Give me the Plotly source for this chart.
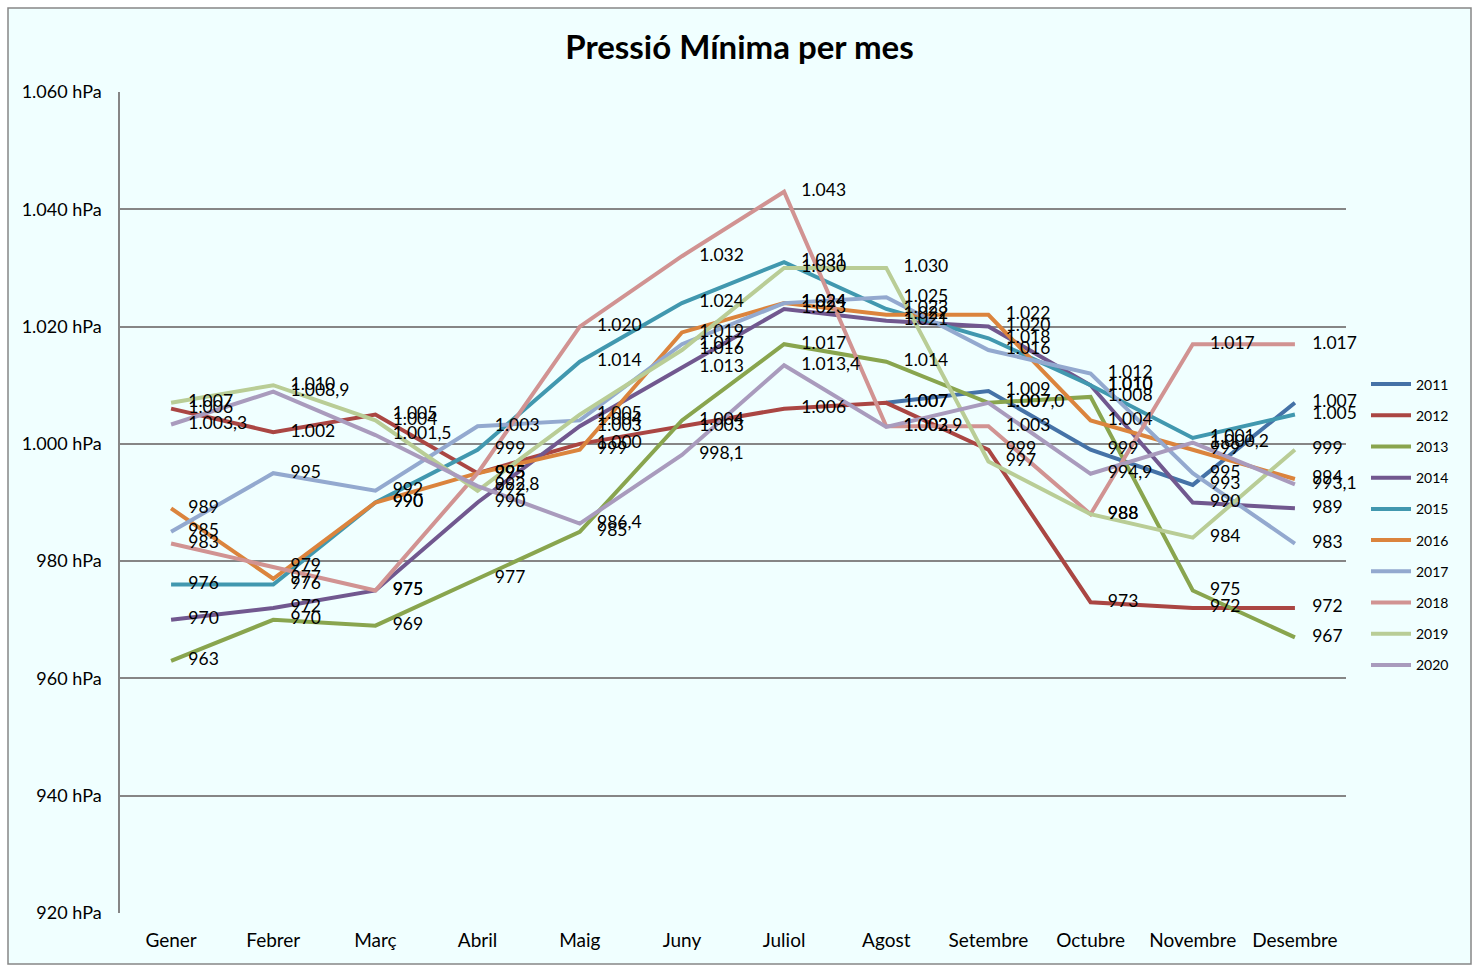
import plotly.graph_objects as go

months = ["Gener", "Febrer", "Març", "Abril", "Maig", "Juny", "Juliol",
          "Agost", "Setembre", "Octubre", "Novembre", "Desembre"]

p2011 = [None, None, None, None, None, None, None, 1007, 1009, 999, 993, 1007]
p2012 = [1006, 1002, 1005, 995, 1000, 1003, 1006, 1007, 999, 973, 972, 972]
p2013 = [963, 970, 969, 977, 985, 1004, 1017, 1014, 1007, 1008, 975, 967]
p2014 = [970, 972, 975, 990, 1003, 1013, 1023, 1021, 1020, 1010, 990, 989]
p2015 = [976, 976, 990, 999, 1014, 1024, 1031, 1023, 1018, 1010, 1001, 1005]
p2016 = [989, 977, 990, 995, 999, 1019, 1024, 1022, 1022, 1004, 999, 994]
p2017 = [985, 995, 992, 1003, 1004, 1017, 1024, 1025, 1016, 1012, 995, 983]
p2018 = [983, 979, 975, 995, 1020, 1032, 1043, 1003, 1003, 988, 1017, 1017]
p2019 = [1007, 1010, 1004, 992, 1005, 1016, 1030, 1030, 997, 988, 984, 999]
p2020 = [1003.3, 1008.9, 1001.5, 992.8, 986.4, 998.1, 1013.4, 1002.9, 1007.0, 994.9, 1000.2, 993.1]

series_names = ["2011", "2012", "2013", "2014", "2015", "2016", "2017", "2018", "2019", "2020"]
series_values = [p2011, p2012, p2013, p2014, p2015, p2016, p2017, p2018, p2019, p2020]
colors = ["#4572A7", "#AA4643", "#89A54E", "#71588F", "#4198AF",
          "#DB843D", "#93A9CF", "#D19392", "#B9CD96", "#A99BBD"]

ytick_vals = [920, 940, 960, 980, 1000, 1020, 1040, 1060]
ytick_text = ["920 hPa", "940 hPa", "960 hPa", "980 hPa", "1.000 hPa",
              "1.020 hPa", "1.040 hPa", "1.060 hPa"]

FONT = "Lato"
BG = "#F0FFFF"

fig = go.Figure()

for name, vals, col in zip(series_names, series_values, colors):
    fig.add_trace(go.Scatter(
        x=months, y=vals, name=name, mode="lines",
        line=dict(color=col, width=4),
        legendgroup=name, hoverinfo="skip",
    ))

for name, vals, col in zip(series_names, series_values, colors):
    fmt = "%{y:,.1f}" if name == "2020" else "%{y:,.0f}"
    fig.add_trace(go.Scatter(
        x=months, y=vals, mode="markers+text", showlegend=False,
        marker=dict(size=26, color="rgba(0,0,0,0)"),
        texttemplate=fmt, textposition="middle right",
        textfont=dict(family=FONT, size=17.5, color="#000000"),
        hoverinfo="skip", cliponaxis=False,
    ))

W, H = 1479, 972
L, R, T, B = 120, 1346, 92, 913
pw, ph = R - L, B - T

def px(x):
    return (x - L) / pw

def py(y):
    return (B - y) / ph

fig.add_shape(type="rect", xref="paper", yref="paper",
              x0=px(8), x1=px(1471), y0=py(964), y1=py(8),
              line=dict(color="#868686", width=1.5), fillcolor=BG, layer="below")

fig.update_layout(
    width=W, height=H,
    margin=dict(l=L, r=W - R, t=T, b=H - B, pad=0),
    paper_bgcolor="white", plot_bgcolor="rgba(0,0,0,0)",
    separators=",.",
    font=dict(family=FONT, color="#000000"),
    title=dict(text="<b>Pressió Mínima per mes</b>", x=0.5, xref="container",
               y=1 - 47 / H, yref="container", yanchor="middle", xanchor="center",
               font=dict(family=FONT, size=33, color="#000000")),
    showlegend=True,
    legend=dict(x=px(1366), xanchor="left", y=py(524.5), yanchor="middle",
                font=dict(family=FONT, size=14, color="#000000"),
                bgcolor="rgba(0,0,0,0)", tracegroupgap=10, itemwidth=40),
    xaxis=dict(type="category", range=[-0.5, 11.5], showgrid=False,
               showline=False, zeroline=False, ticks="",
               tickfont=dict(family=FONT, size=19, color="#000000"),
               ticklabelstandoff=14),
    yaxis=dict(range=[920, 1060], tickvals=ytick_vals, ticktext=ytick_text,
               showgrid=True, gridcolor="#868686", gridwidth=1.5,
               showline=True, linecolor="#868686", linewidth=1.5,
               zeroline=False, ticks="",
               tickfont=dict(family=FONT, size=18, color="#000000"),
               ticklabelstandoff=13),
)

fig.write_html("out.html")
